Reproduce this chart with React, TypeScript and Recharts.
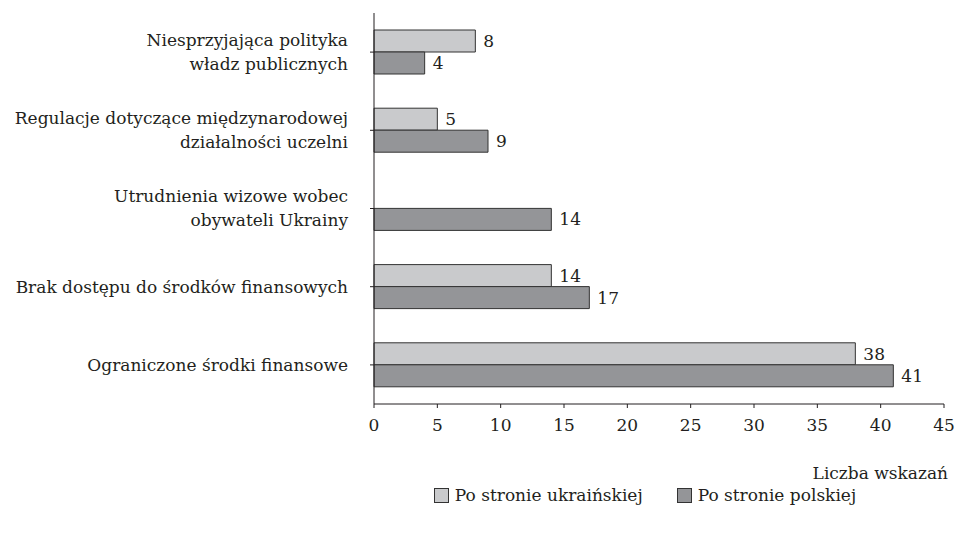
import { BarChart, Bar, XAxis, YAxis, LabelList, Legend } from 'recharts';

const categories = [
  'Niesprzyjająca polityka\nwładz publicznych',
  'Regulacje dotyczące międzynarodowej\ndziałalności uczelni',
  'Utrudnienia wizowe wobec\nobywateli Ukrainy',
  'Brak dostępu do środków finansowych',
  'Ograniczone środki finansowe',
];
const ukrainianSide = [8, 5, null, 14, 38];
const polishSide = [4, 9, 14, 17, 41];
const xTicks = [0, 5, 10, 15, 20, 25, 30, 35, 40, 45];

const seriesNames = ['Po stronie ukraińskiej', 'Po stronie polskiej'];
const colors = ['#c9cacc', '#949598'];

const data = categories.map((name, i) => ({
  name,
  ua: ukrainianSide[i],
  pl: polishSide[i],
}));

const FONT = "'DejaVu Serif', 'Liberation Serif', serif";
const TEXT = '#231f20';
const FS = 17;

const CategoryTick = (props: any) => {
  const { x, y, payload } = props;
  const lines = String(payload.value).split('\n');
  const lh = 24;
  const start = -((lines.length - 1) * lh) / 2;
  return (
    <text x={x} y={y} textAnchor="end" fontFamily={FONT} fontSize={FS} fill={TEXT}>
      {lines.map((l, i) => (
        <tspan key={i} x={x} y={y + start + i * lh} dy="0.35em">
          {l}
        </tspan>
      ))}
    </text>
  );
};

const AxisTitle = (props: any) => {
  const { viewBox } = props;
  return (
    <text
      x={viewBox.x + viewBox.width + 4}
      y={viewBox.y + 75}
      textAnchor="end"
      fontFamily={FONT}
      fontSize={FS}
      fill={TEXT}
    >
      Liczba wskazań
    </text>
  );
};

const LegendContent = () => (
  <div
    style={{
      display: 'flex',
      justifyContent: 'center',
      paddingLeft: 332,
      fontFamily: FONT,
      fontSize: FS,
      color: TEXT,
      gap: 34,
    }}
  >
    {seriesNames.map((n, i) => (
      <div key={n} style={{ display: 'flex', alignItems: 'center' }}>
        <span
          style={{
            display: 'inline-block',
            width: 13,
            height: 13,
            background: colors[i],
            border: '1px solid #333',
            marginRight: 6,
          }}
        />
        <span>{n}</span>
      </div>
    ))}
  </div>
);

export default function App() {
  return (
    <div style={{ position: 'absolute', left: 0, top: 0, background: '#fff' }}>
      <BarChart
        width={958}
        height={533}
        data={data}
        layout="vertical"
        margin={{ top: 13, right: 14, bottom: 79, left: 0 }}
        barGap={0}
      >
        <XAxis
          type="number"
          domain={[0, 45]}
          ticks={xTicks}
          interval={0}
          height={30}
          tickSize={4}
          tickMargin={11}
          stroke="#231f20"
          tick={{ fontFamily: FONT, fontSize: FS, fill: TEXT }}
          label={<AxisTitle />}
        />
        <YAxis
          type="category"
          dataKey="name"
          width={374}
          tickSize={4}
          tickMargin={22}
          interval={0}
          stroke="#231f20"
          tick={<CategoryTick />}
        />
        <Legend
          verticalAlign="bottom"
          wrapperStyle={{ left: 0, top: 485, width: 958 }}
          content={<LegendContent />}
        />
        <Bar dataKey="ua" name={seriesNames[0]} fill={colors[0]} stroke="#333" strokeWidth={1} barSize={22} isAnimationActive={false}>
          <LabelList dataKey="ua" position="right" offset={8} style={{ fontFamily: FONT, fontSize: FS, fill: TEXT }} />
        </Bar>
        <Bar dataKey="pl" name={seriesNames[1]} fill={colors[1]} stroke="#333" strokeWidth={1} barSize={22} isAnimationActive={false}>
          <LabelList dataKey="pl" position="right" offset={8} style={{ fontFamily: FONT, fontSize: FS, fill: TEXT }} />
        </Bar>
      </BarChart>
    </div>
  );
}
